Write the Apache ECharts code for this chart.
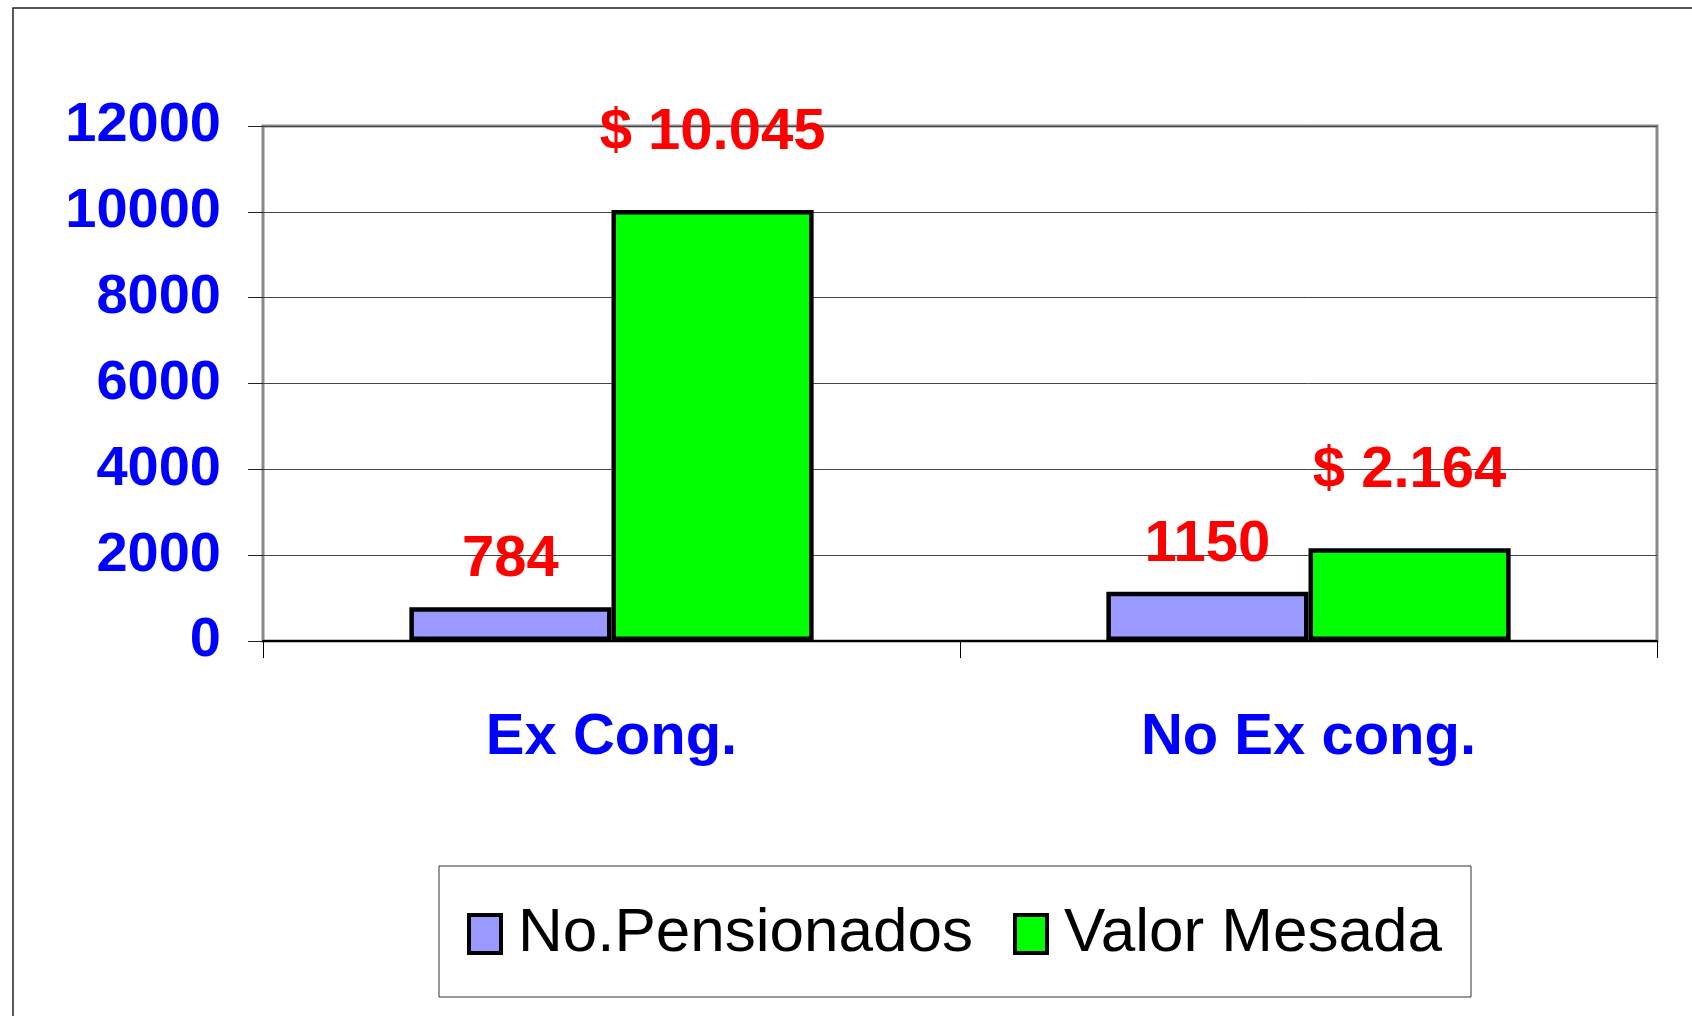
<!DOCTYPE html>
<html>
<head>
<meta charset="utf-8">
<title>Pensionados</title>
<script src="https://cdn.jsdelivr.net/npm/echarts@6/dist/echarts.min.js"></script>
<style>
  html, body { margin: 0; padding: 0; background: #fff; }
  #chart { width: 1692px; height: 1016px; }
</style>
</head>
<body>
<div id="chart"></div>
<script>
// datos
const categorias = ['Ex Cong.', 'No Ex cong.'];
const pensionados = [784, 1150];
const mesada = [10045, 2164];
const etiquetasMesada = ['$ 10.045', '$ 2.164'];
const nombresSeries = ['No.Pensionados', 'Valor Mesada'];

const FONT = '"Liberation Sans", Arial, sans-serif';

const myChart = echarts.init(document.getElementById('chart'));

const labelBase = {
  show: true,
  position: 'top',
  color: '#ff0000',
  fontFamily: FONT,
  fontWeight: 'bold',
  fontSize: 58
};

const option = {
  animation: false,
  backgroundColor: '#ffffff',
  graphic: [
    // marco exterior
    {type: 'rect', shape: {x: 13, y: 8, width: 1700, height: 1100},
      style: {fill: 'none', stroke: '#222', lineWidth: 1.5}, z: -1},
    // marco de la leyenda
    {type: 'rect', shape: {x: 439, y: 866, width: 1032, height: 131},
      style: {fill: 'none', stroke: '#333', lineWidth: 1}, z: -1}
  ],
  grid: {
    left: 263,
    right: 35,
    top: 126,
    bottom: 375,
    show: true,
    borderColor: '#888',
    borderWidth: 3
  },
  legend: {
    data: nombresSeries,
    icon: 'rect',
    left: 462,
    top: 896,
    itemWidth: 32,
    itemHeight: 38,
    itemGap: 40,
    itemStyle: {borderColor: '#000', borderWidth: 4},
    textStyle: {
      fontFamily: FONT,
      fontSize: 62,
      color: '#000',
      lineHeight: 66,
      padding: [0, 0, 0, 12]
    }
  },
  xAxis: {
    type: 'category',
    data: categorias,
    axisLine: {lineStyle: {color: '#000', width: 2}},
    axisTick: {show: true, length: 17, lineStyle: {color: '#000', width: 1}},
    axisLabel: {
      color: '#0000ff',
      fontFamily: FONT,
      fontWeight: 'bold',
      fontSize: 58,
      margin: 68
    }
  },
  yAxis: {
    type: 'value',
    min: 0,
    max: 12000,
    interval: 2000,
    axisLine: {show: false},
    axisTick: {show: true, length: 15, lineStyle: {color: '#222', width: 1}},
    axisLabel: {
      color: '#0000ff',
      fontFamily: FONT,
      fontWeight: 'bold',
      fontSize: 56,
      margin: 42,
      formatter: v => String(v)
    },
    splitLine: {lineStyle: {color: '#444', width: 1}}
  },
  series: [
    {
      name: nombresSeries[0],
      type: 'bar',
      data: pensionados,
      barGap: '0%',
      barCategoryGap: '42%',
      itemStyle: {color: '#9999ff', borderColor: '#000', borderWidth: 4.5},
      label: Object.assign({}, labelBase, {distance: 18})
    },
    {
      name: nombresSeries[1],
      type: 'bar',
      data: mesada,
      barGap: '0%',
      barCategoryGap: '42%',
      itemStyle: {color: '#00ff00', borderColor: '#000', borderWidth: 4.5},
      label: Object.assign({}, labelBase, {
        distance: 48,
        formatter: p => etiquetasMesada[p.dataIndex]
      })
    }
  ]
};

myChart.setOption(option);
</script>
</body>
</html>
